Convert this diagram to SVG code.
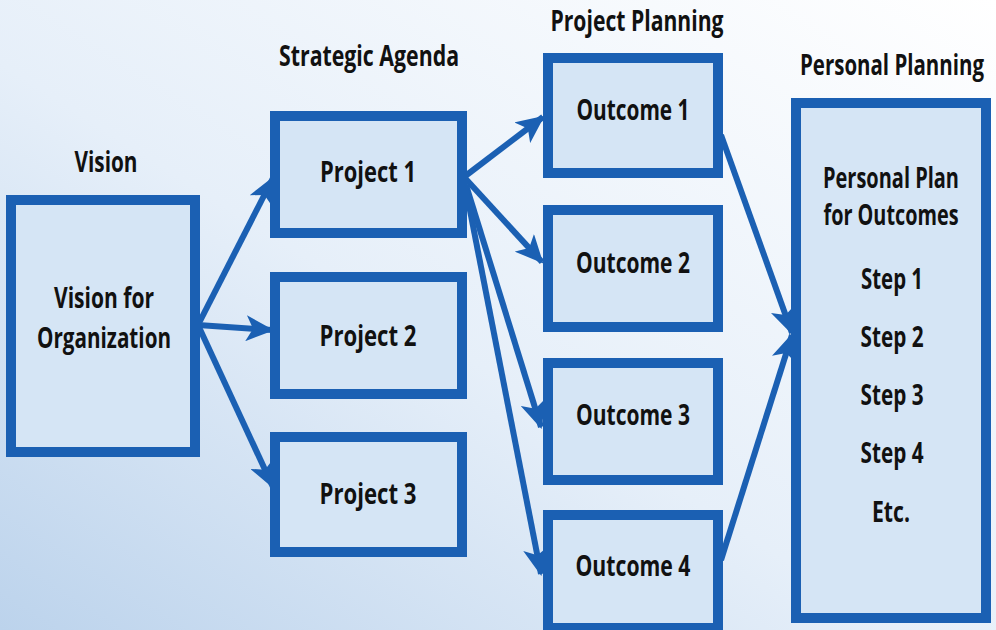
<svg xmlns="http://www.w3.org/2000/svg" width="996" height="630" viewBox="0 0 996 630">
<defs>
<linearGradient id="bg" x1="0" y1="1" x2="1" y2="0">
<stop offset="0" stop-color="#bcd3ec"/>
<stop offset="0.45" stop-color="#e6eff9"/>
<stop offset="1" stop-color="#ffffff"/>
</linearGradient>
<marker id="ah" markerUnits="userSpaceOnUse" markerWidth="28" markerHeight="26" refX="26" refY="13" orient="auto">
<path d="M0,0 L28,13 L0,26 L7,13 Z" fill="#1b60b3"/>
</marker>
<style>
.box{fill:#d5e5f5;stroke:#1b60b3;stroke-width:10}
.t{font-family:"Open Sans","DejaVu Sans",sans-serif;font-weight:700;font-size:28px;fill:#111;text-anchor:middle}
.c{stroke:#1b60b3;stroke-width:6;fill:none;marker-end:url(#ah)}
</style>
</defs>
<rect width="996" height="630" fill="url(#bg)"/>
<g id="headers">
<text class="t" x="106" y="172" textLength="63" lengthAdjust="spacingAndGlyphs">Vision</text>
<text class="t" x="369" y="66" textLength="180" lengthAdjust="spacingAndGlyphs">Strategic Agenda</text>
<text class="t" x="637" y="31" textLength="173" lengthAdjust="spacingAndGlyphs">Project Planning</text>
<text class="t" x="892" y="75" textLength="184" lengthAdjust="spacingAndGlyphs">Personal Planning</text>
</g>
<g id="connectors">
<line class="c" x1="198" y1="325" x2="273" y2="178"/>
<line class="c" x1="198" y1="325" x2="272" y2="330"/>
<line class="c" x1="198" y1="325" x2="273" y2="487"/>
<line class="c" x1="464" y1="177" x2="543" y2="117"/>
<line class="c" x1="464" y1="177" x2="542" y2="262"/>
<line class="c" x1="466" y1="185" x2="541" y2="427"/>
<line class="c" x1="466" y1="190" x2="541" y2="574"/>
<line class="c" x1="721" y1="135" x2="792" y2="333"/>
<line class="c" x1="721" y1="560" x2="792" y2="335"/>
</g>
<g id="vision">
<rect class="box" x="11" y="200" width="184" height="252"/>
<text class="t" x="104" y="308" textLength="100" lengthAdjust="spacingAndGlyphs">Vision for</text>
<text class="t" x="104" y="348" textLength="134" lengthAdjust="spacingAndGlyphs">Organization</text>
</g>
<g id="project1">
<rect class="box" x="275" y="116" width="187" height="117"/>
<text class="t" x="368" y="182" textLength="96" lengthAdjust="spacingAndGlyphs">Project 1</text>
</g>
<g id="project2">
<rect class="box" x="275" y="277" width="187" height="117"/>
<text class="t" x="368" y="346" textLength="97" lengthAdjust="spacingAndGlyphs">Project 2</text>
</g>
<g id="project3">
<rect class="box" x="275" y="437" width="187" height="115"/>
<text class="t" x="368" y="504" textLength="97" lengthAdjust="spacingAndGlyphs">Project 3</text>
</g>
<g id="outcome1">
<rect class="box" x="548" y="58" width="170" height="115"/>
<text class="t" x="633" y="120" textLength="113" lengthAdjust="spacingAndGlyphs">Outcome 1</text>
</g>
<g id="outcome2">
<rect class="box" x="548" y="210" width="170" height="117"/>
<text class="t" x="633" y="273" textLength="114" lengthAdjust="spacingAndGlyphs">Outcome 2</text>
</g>
<g id="outcome3">
<rect class="box" x="548" y="363" width="170" height="117"/>
<text class="t" x="633" y="425" textLength="114" lengthAdjust="spacingAndGlyphs">Outcome 3</text>
</g>
<g id="outcome4">
<rect class="box" x="548" y="515" width="170" height="113"/>
<text class="t" x="633" y="576" textLength="115" lengthAdjust="spacingAndGlyphs">Outcome 4</text>
</g>
<g id="personal">
<rect class="box" x="796" y="103" width="190" height="515"/>
<text class="t" x="891" y="188" textLength="136" lengthAdjust="spacingAndGlyphs">Personal Plan</text>
<text class="t" x="891" y="225" textLength="135" lengthAdjust="spacingAndGlyphs">for Outcomes</text>
<text class="t" x="892" y="289" textLength="62" lengthAdjust="spacingAndGlyphs">Step 1</text>
<text class="t" x="892" y="347" textLength="63" lengthAdjust="spacingAndGlyphs">Step 2</text>
<text class="t" x="892" y="405" textLength="63" lengthAdjust="spacingAndGlyphs">Step 3</text>
<text class="t" x="892" y="463" textLength="63" lengthAdjust="spacingAndGlyphs">Step 4</text>
<text class="t" x="891" y="522" textLength="38" lengthAdjust="spacingAndGlyphs">Etc.</text>
</g>
</svg>
